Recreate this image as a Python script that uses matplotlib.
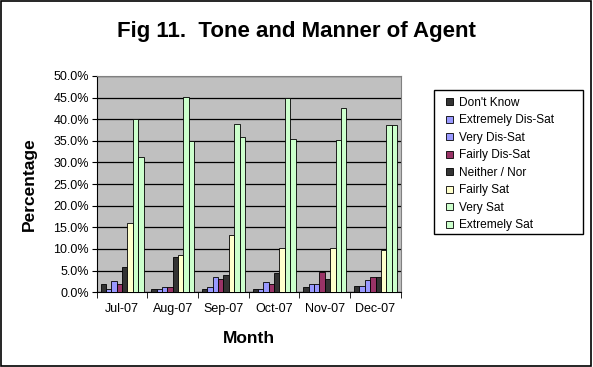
#Libraries
import numpy as np
import matplotlib.pyplot as plt
from matplotlib.patches import Rectangle
from matplotlib.ticker import FuncFormatter, MultipleLocator

plt.rcParams['font.family'] = ['Liberation Sans', 'DejaVu Sans']

#Data
months = ['Jul-07', 'Aug-07', 'Sep-07', 'Oct-07', 'Nov-07', 'Dec-07']
series = ["Don't Know", 'Extremely Dis-Sat', 'Very Dis-Sat', 'Fairly Dis-Sat',
          'Neither / Nor', 'Fairly Sat', 'Very Sat', 'Extremely Sat']
dont_know = [1.8, 0.7, 0.7, 0.7, 1.2, 1.4]
ext_dissat = [0.7, 0.7, 1.1, 0.7, 1.9, 1.4]
very_dissat = [2.6, 1.1, 3.5, 2.4, 1.9, 2.9]
fairly_dissat = [1.8, 1.1, 3.0, 1.8, 4.7, 3.5]
neither = [5.8, 8.1, 3.9, 4.4, 3.0, 3.5]
fairly_sat = [16.1, 8.6, 13.2, 10.1, 10.1, 9.8]
very_sat = [40.0, 45.2, 39.0, 44.9, 35.1, 38.7]
ext_sat = [31.3, 34.9, 35.8, 35.4, 42.6, 38.7]
colors = ['#333333', '#9999FF', '#9999FF', '#993366', '#333333', '#FFFFCC', '#CCFFCC', '#CCFFCC']

values = [dont_know, ext_dissat, very_dissat, fairly_dissat, neither, fairly_sat, very_sat, ext_sat]

fig = plt.figure(figsize=(5.93, 3.67), dpi=100)
ax = fig.add_axes([0.163, 0.204, 0.513, 0.589])
ax.set_facecolor('#C0C0C0')

x = np.arange(len(months))
w = 0.106
for i, (name, vals) in enumerate(zip(series, values)):
    ax.bar(x + (i - 3.5) * w, vals, w, color=colors[i], edgecolor='black', linewidth=0.6,
           label=name, zorder=3)

ax.set_xlim(-0.5, len(months) - 0.5)
ax.set_ylim(0, 50)
ax.yaxis.set_major_locator(MultipleLocator(5))
ax.yaxis.set_major_formatter(FuncFormatter(lambda v, p: '%.1f%%' % v))
ax.grid(axis='y', color='black', linewidth=0.9, zorder=1)
ax.set_axisbelow(True)

ax.set_xticks(x)
ax.set_xticklabels(months)
ax.set_xticks(np.arange(-0.5, len(months)), minor=True)
ax.tick_params(axis='x', which='major', length=0, pad=8, labelsize=9)
ax.tick_params(axis='x', which='minor', length=4, direction='out', color='black')
ax.tick_params(axis='y', length=3.5, direction='out', labelsize=9, pad=2)

for s in ['top', 'right']:
    ax.spines[s].set_color('#808080')
for s in ['left', 'bottom']:
    ax.spines[s].set_color('black')

ax.set_xlabel('Month', fontsize=12.5, fontweight='bold', labelpad=11)
ax.set_ylabel('Percentage', fontsize=12.5, fontweight='bold', labelpad=12)
fig.text(0.50, 0.915, 'Fig 11.  Tone and Manner of Agent', ha='center', va='center',
         fontsize=16, fontweight='bold')

leg = ax.legend(loc='upper left', bbox_to_anchor=(446 / 593, 1 - 97 / 367),
                bbox_transform=fig.transFigure, fontsize=8.6, frameon=False,
                handlelength=0.55, handleheight=0.55, handletextpad=0.55,
                labelspacing=0.46, borderpad=0, borderaxespad=0)
for h in leg.legend_handles:
    h.set_edgecolor('black')
    h.set_linewidth(0.6)

fig.patches.append(Rectangle((434 / 593, 1 - 234 / 367), 149 / 593, 144 / 367,
                             transform=fig.transFigure, fill=False, edgecolor='black',
                             linewidth=1.0))
fig.patches.append(Rectangle((0.002, 0.003), 0.995, 0.993, transform=fig.transFigure,
                             fill=False, edgecolor='black', linewidth=1.2))

plt.savefig('out.png', dpi=100)
